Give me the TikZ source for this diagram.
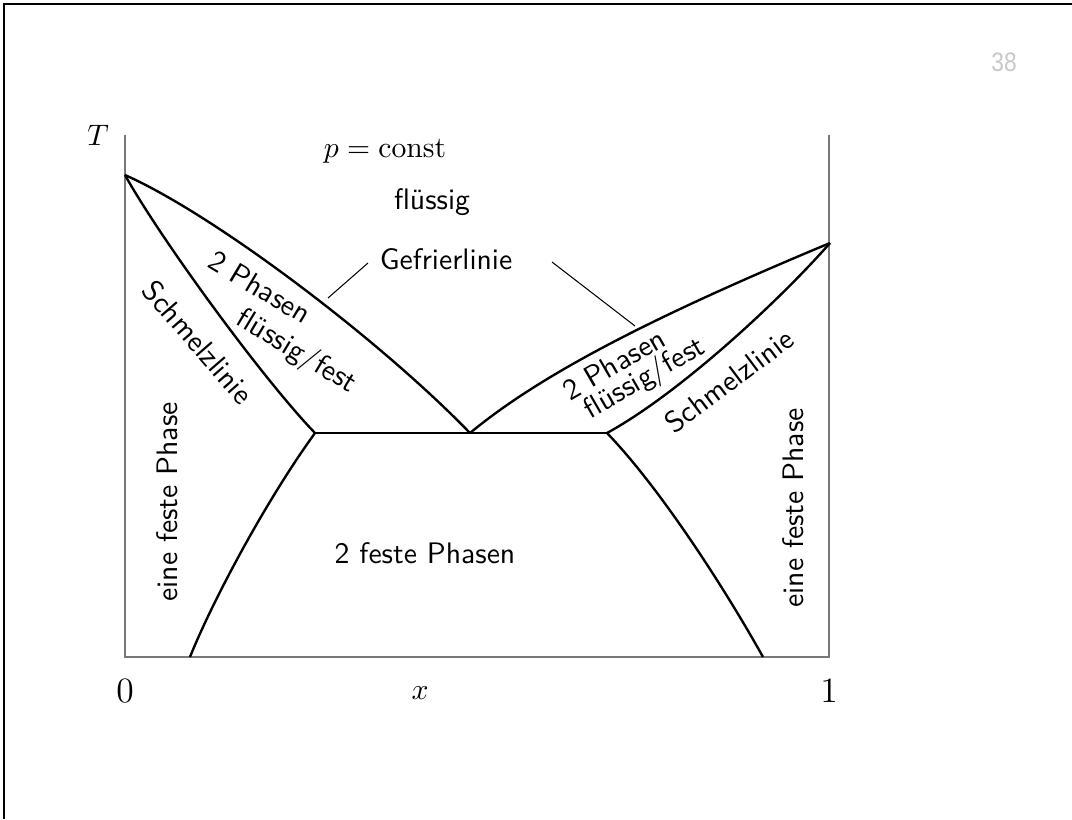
\documentclass[tikz,border=0pt]{standalone}
\usepackage{fontspec}
\usepackage{graphicx}
\newfontfamily\pagenumfont{Liberation Sans}
\definecolor{axisgray}{RGB}{120,120,120}
\definecolor{numgray}{RGB}{200,200,200}
\begin{document}
\begin{tikzpicture}[x=0.337pt,y=-0.337pt,
  phase/.style={line width=0.8pt, line join=round},
  axisline/.style={draw=axisgray, line width=0.5pt},
  leader/.style={line width=0.35pt},
  lbl/.style={font=\sffamily, inner sep=0pt},
  mlbl/.style={inner sep=0pt}]
\useasboundingbox (0,0) rectangle (1072,819);
% slide frame
\draw[line width=0.8pt] (4,819) -- (4,4) -- (1072,4);
% key points
\coordinate (TL) at (125,175);
\coordinate (TR) at (830,243);
\coordinate (SL) at (315,433);
\coordinate (EU) at (470,433);
\coordinate (SR) at (607,433);
\coordinate (BL) at (190,657);
\coordinate (BR) at (763,657);
\coordinate (Ytop) at (125,135);
\coordinate (O) at (125,657);
\coordinate (X1) at (829,657);
\coordinate (Rtop) at (829,135);
% axes
\draw[axisline] (Ytop) -- (O) -- (X1) -- (Rtop);
% phase boundaries
\draw[phase] (TL) .. controls (215,215) and (380,340) .. (EU);
\draw[phase] (TL) .. controls (160,238) and (262,378) .. (SL);
\draw[phase] (SL) -- (EU) -- (SR);
\draw[phase] (SL) .. controls (265,502) and (212,602) .. (BL);
\draw[phase] (EU) .. controls (540,375) and (650,318) .. (TR);
\draw[phase] (SR) .. controls (680,393) and (780,300) .. (TR);
\draw[phase] (SR) .. controls (662,490) and (728,594) .. (BR);
% labels
\node[mlbl, anchor=base] (pc) at (385,157) {$p=\mathrm{const}$};
\node[lbl, anchor=base] (fl) at (432,209) {flüssig};
\node[lbl, anchor=base] (gef) at (446,269) {Gefrierlinie};
\coordinate (gl1) at (368,263);
\coordinate (gl2) at (328,298);
\coordinate (gr1) at (552,262);
\coordinate (gr2) at (635,326);
\draw[leader] (gl1) -- (gl2);
\draw[leader] (gr1) -- (gr2);
\node[lbl, rotate=-31] (p2l) at (260,287) {2 Phasen};
\node[lbl, rotate=-31] (ffl) at (296,352) {flüssig/fest};
\node[lbl, rotate=-49] (sl) at (198,342) {Schmelzlinie};
\node[lbl, rotate=30] (p2r) at (614,364) {2 Phasen};
\node[lbl, rotate=30] (ffr) at (645,379) {flüssig/fest};
\node[lbl, rotate=37] (sr) at (729,381) {Schmelzlinie};
\node[lbl, rotate=90] (efl) at (167,502) {eine feste Phase};
\node[lbl, rotate=90] (efr) at (793,508) {eine feste Phase};
\node[lbl, anchor=base] (zf) at (425,563) {2 feste Phasen};
\node[mlbl] (T) at (98,135) {$T$};
\node[mlbl, font=\large] (n0) at (125,691) {$0$};
\node[mlbl, font=\large] (n1) at (829,691) {$1$};
\node[mlbl] (xl) at (420,693) {$x$};
\node[font=\pagenumfont\fontsize{9}{11}\selectfont, text=numgray, inner sep=0pt] (pg) at (1004,62) {\scalebox{0.85}[1]{38}};
\end{tikzpicture}
\end{document}
